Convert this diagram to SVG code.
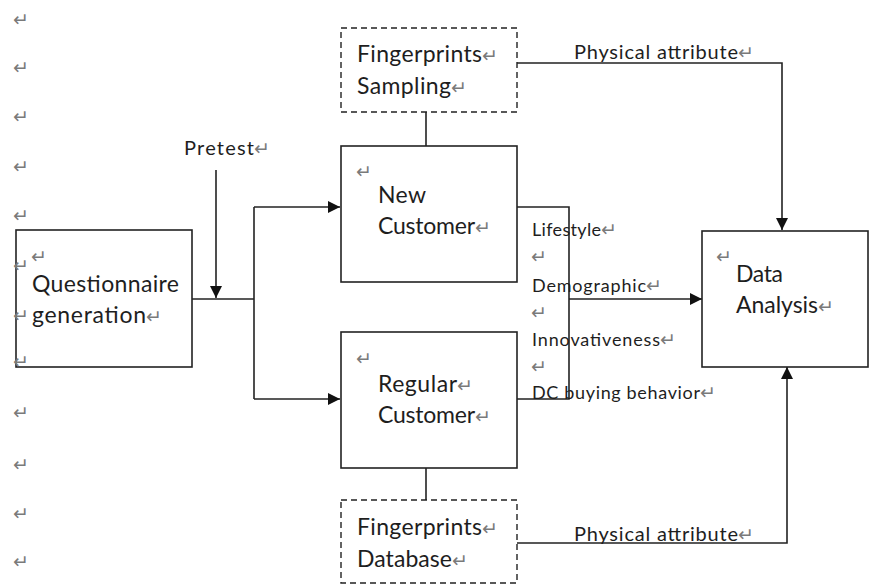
<svg xmlns="http://www.w3.org/2000/svg" width="869" height="585" viewBox="0 0 869 585">
<style>
.box{fill:#fff;stroke:#222;stroke-width:1.6}
.dash{fill:#fff;stroke:#222;stroke-width:1.4;stroke-dasharray:6 4}
.ln{fill:none;stroke:#222;stroke-width:1.6}
.t{font-family:Lato,"Liberation Sans",sans-serif;fill:#1e1e1e}
.big{font-size:23px}
.mid{font-size:20px}
.sm{font-size:18px}
.pm{font-family:"DejaVu Sans",sans-serif;font-size:19px;fill:#7a7a7a}
</style>
<defs>
<marker id="ah" viewBox="0 0 12 12" refX="12" refY="6" markerWidth="12" markerHeight="12" markerUnits="userSpaceOnUse" orient="auto">
<path d="M0,0 L12,6 L0,12 z" fill="#111"/>
</marker>
</defs>
<rect width="869" height="585" fill="#fff"/>

<g id="margin-marks">
<text class="pm" x="13" y="26">↵</text>
<text class="pm" x="13" y="74">↵</text>
<text class="pm" x="13" y="123">↵</text>
<text class="pm" x="13" y="173">↵</text>
<text class="pm" x="13" y="222">↵</text>
<text class="pm" x="13" y="419">↵</text>
<text class="pm" x="13" y="471">↵</text>
<text class="pm" x="13" y="520">↵</text>
<text class="pm" x="13" y="568">↵</text>
</g>

<g id="connectors">
<line class="ln" x1="216" y1="170" x2="216" y2="298" marker-end="url(#ah)"/>
<line class="ln" x1="192" y1="299" x2="254" y2="299"/>
<line class="ln" x1="254" y1="207" x2="254" y2="399"/>
<line class="ln" x1="254" y1="207" x2="340" y2="207" marker-end="url(#ah)"/>
<line class="ln" x1="254" y1="399" x2="340" y2="399" marker-end="url(#ah)"/>
<line class="ln" x1="426" y1="112" x2="426" y2="146"/>
<line class="ln" x1="426" y1="468" x2="426" y2="500"/>
<polyline class="ln" points="517,207 569,207 569,399 517,399"/>
<line class="ln" x1="569" y1="299" x2="702" y2="299" marker-end="url(#ah)"/>
<polyline class="ln" points="517,63 782,63 782,230" marker-end="url(#ah)"/>
<polyline class="ln" points="517,543 787,543 787,367" marker-end="url(#ah)"/>
</g>

<g id="node-questionnaire">
<rect class="box" x="16" y="230" width="176" height="137"/>
<text class="pm" x="31" y="263">↵</text>
<text class="t big" x="32" y="292" textLength="147">Questionnaire</text>
<text class="t big" x="32" y="323" textLength="114">generation</text>
<text class="pm" x="146" y="323">↵</text>
</g>
<g id="left-overlap-marks">
<text class="pm" x="13" y="272">↵</text>
<text class="pm" x="13" y="322">↵</text>
<text class="pm" x="13" y="368">↵</text>
</g>

<g id="label-pretest">
<text class="t mid" x="184" y="155" textLength="70">Pretest</text>
<text class="pm" x="254" y="155">↵</text>
</g>

<g id="node-fp-sampling">
<rect class="dash" x="341" y="28" width="176" height="84"/>
<text class="t big" x="357" y="62" textLength="125">Fingerprints</text>
<text class="pm" x="482" y="62">↵</text>
<text class="t big" x="357" y="94" textLength="94">Sampling</text>
<text class="pm" x="451" y="94">↵</text>
</g>

<g id="node-new-customer">
<rect class="box" x="341" y="146" width="176" height="136"/>
<text class="pm" x="356" y="178">↵</text>
<text class="t big" x="378" y="203" textLength="48">New</text>
<text class="t big" x="378" y="234" textLength="97">Customer</text>
<text class="pm" x="475" y="234">↵</text>
</g>

<g id="node-regular-customer">
<rect class="box" x="341" y="332" width="176" height="136"/>
<text class="pm" x="356" y="365">↵</text>
<text class="t big" x="378" y="392" textLength="79">Regular</text>
<text class="pm" x="457" y="392">↵</text>
<text class="t big" x="378" y="423" textLength="97">Customer</text>
<text class="pm" x="475" y="423">↵</text>
</g>

<g id="node-fp-database">
<rect class="dash" x="341" y="500" width="176" height="83"/>
<text class="t big" x="357" y="535" textLength="125">Fingerprints</text>
<text class="pm" x="482" y="535">↵</text>
<text class="t big" x="357" y="567" textLength="95">Database</text>
<text class="pm" x="452" y="567">↵</text>
</g>

<g id="node-data-analysis">
<rect class="box" x="702" y="231" width="166" height="136"/>
<text class="pm" x="716" y="263">↵</text>
<text class="t big" x="736" y="282" textLength="47">Data</text>
<text class="t big" x="736" y="313" textLength="82">Analysis</text>
<text class="pm" x="818" y="313">↵</text>
</g>

<g id="labels-attributes">
<text class="t sm" x="532" y="236" textLength="69">Lifestyle</text>
<text class="pm" x="601" y="236">↵</text>
<text class="pm" x="531" y="263">↵</text>
<text class="t sm" x="532" y="292" textLength="114">Demographic</text>
<text class="pm" x="646" y="292">↵</text>
<text class="pm" x="531" y="319">↵</text>
<text class="t sm" x="532" y="346" textLength="128">Innovativeness</text>
<text class="pm" x="660" y="346">↵</text>
<text class="pm" x="531" y="373">↵</text>
<text class="t sm" x="532" y="399" textLength="168">DC buying behavior</text>
<text class="pm" x="700" y="399">↵</text>
</g>

<g id="labels-physical">
<text class="t mid" x="574" y="59" textLength="164">Physical attribute</text>
<text class="pm" x="738" y="59">↵</text>
<text class="t mid" x="574" y="541" textLength="164">Physical attribute</text>
<text class="pm" x="738" y="541">↵</text>
</g>
</svg>
